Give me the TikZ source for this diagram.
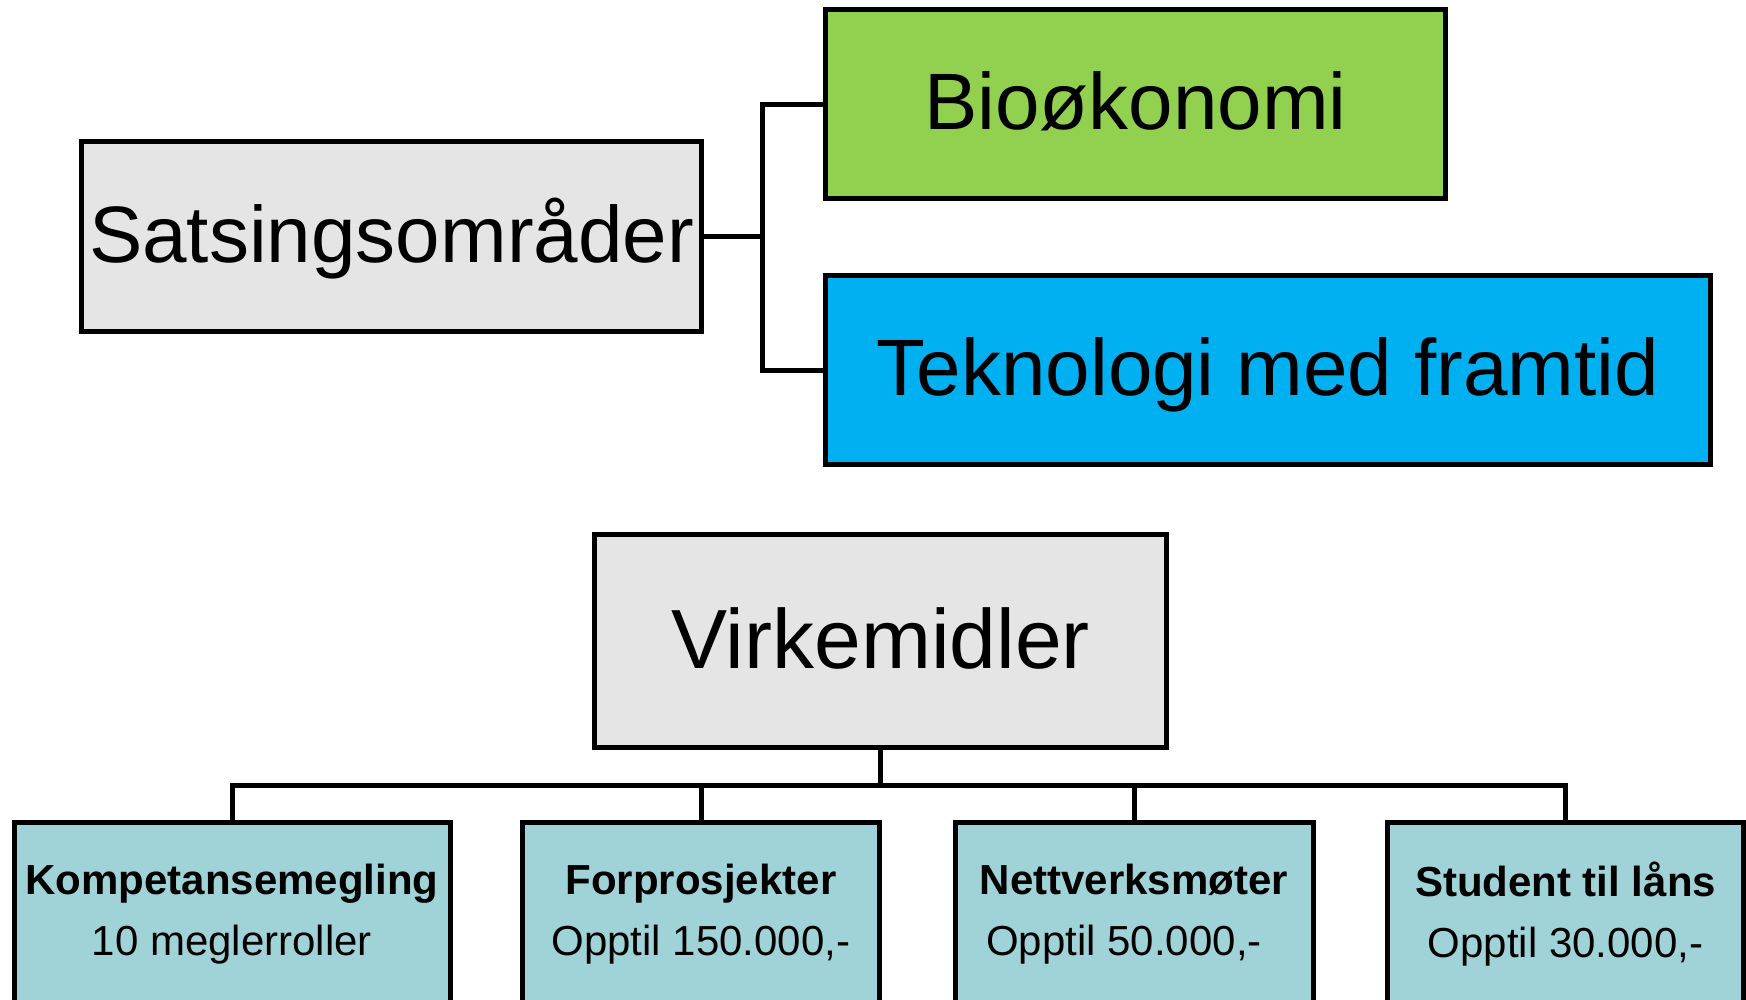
\documentclass[tikz,border=0pt]{standalone}
\usepackage{fontspec}
\setmainfont{Liberation Sans}
\definecolor{boxgray}{HTML}{E5E5E5}
\definecolor{boxgreen}{HTML}{92D050}
\definecolor{boxblue}{HTML}{00B0F0}
\definecolor{boxteal}{HTML}{A0D3D7}
\tikzset{
  bigbox/.style={draw=black, line width=5pt, rectangle, inner sep=0pt, anchor=north west,
    font=\fontsize{80}{96}\selectfont, text height=69pt, text depth=18pt},
  botbox/.style={draw=black, line width=5pt, rectangle, inner sep=0pt, anchor=north west,
    fill=boxteal, minimum height=220pt},
  bottext/.style={align=center, inner sep=0pt, font=\fontsize{42}{61}\selectfont},
  conn/.style={draw=black, line width=5pt},
}
\begin{document}
\begin{tikzpicture}[x=1pt, y=-1pt]
\path[use as bounding box] (0,0) rectangle (1746,999);
\clip (0,0) rectangle (1746,999);
% top group
\node[bigbox, fill=boxgray, minimum width=620pt, minimum height=190pt] (sats) at (79,139) {Satsingsområder};
\node[bigbox, fill=boxgreen, minimum width=620pt, minimum height=189pt] (bio) at (823,7) {Bioøkonomi};
\node[bigbox, fill=boxblue, minimum width=885pt, minimum height=189pt] (tek) at (823,273) {Teknologi med framtid};
\coordinate (j1) at (sats.east -| 762.5,0);
\draw[conn] (sats.east) -- (j1);
\draw[conn] (j1) |- (bio.west);
\draw[conn] (j1) |- (tek.west);
% bottom group
\node[bigbox, fill=boxgray, minimum width=572pt, minimum height=213pt, font=\fontsize{84}{100}\selectfont, text height=72pt, text depth=17.5pt] (virk) at (592,532) {Virkemidler};
\node[botbox, minimum width=436pt] (b1) at (11.5,820) {};
\node[botbox, minimum width=357pt] (b2) at (520,820) {};
\node[botbox, minimum width=358pt] (b3) at (952.5,820) {};
\node[botbox, minimum width=356pt] (b4) at (1385,820) {};
\node[bottext] (t1) at (b1.north |- 0,914.5) {\textbf{Kompetansemegling}\\10 meglerroller};
\node[bottext] (t2) at (b2.north |- 0,914.5) {\textbf{Forprosjekter}\\Opptil 150.000,-};
\node[bottext] (t3) at (b3.north |- 0,914.5) {\textbf{Nettverksmøter}\\Opptil 50.000,-\hspace*{20pt}};
\node[bottext] (t4) at (b4.north |- 0,914.5) {\textbf{Student til låns}\\Opptil 30.000,-};
\coordinate (bus) at (virk.south |- 0,785);
\draw[conn] (virk.south) -- (bus);
\draw[conn] (b1.north) |- (bus);
\draw[conn] (b4.north) |- (bus);
\draw[conn] (b2.north) -- (b2.north |- bus);
\draw[conn] (b3.north) -- (b3.north |- bus);
\end{tikzpicture}
\end{document}
